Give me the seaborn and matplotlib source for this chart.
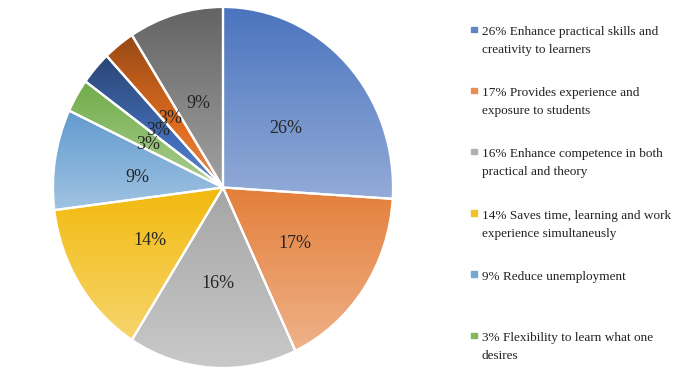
import colorsys

import matplotlib
matplotlib.use("Agg")
import matplotlib.pyplot as plt
import numpy as np
import seaborn as sns
from matplotlib.colors import to_rgb
from matplotlib.patches import Rectangle

# slice shares (%), clockwise from 12 o'clock
shares = [26, 17, 16, 14, 9, 3, 3, 3, 9]
slice_colors = ["#4472C4", "#ED7D31", "#A5A5A5", "#FFC000", "#5B9BD5",
                "#70AD47", "#264478", "#9E480E", "#636363"]
# only the first six legend entries are visible in the source
legend_labels = [
    "26% Enhance practical skills and\ncreativity to learners",
    "17% Provides experience and\nexposure to students",
    "16% Enhance competence in both\npractical and theory",
    "14% Saves time, learning and work\nexperience simultaneusly",
    "9% Reduce unemployment",
    "3% Flexibility to learn what one\ndesires",
]

sns.set_theme(style="white")
plt.rcParams["font.family"] = ["Liberation Serif", "DejaVu Serif"]


def ramp_colors(col, n=256, lift=0.4, sat=0.9):
    """Office-like gradient: lightness rises from top to bottom of the slice."""
    h, l, s = colorsys.rgb_to_hls(*to_rgb(col))
    out = []
    for t in np.linspace(0, 1, n):
        out.append(colorsys.hls_to_rgb(h, l + (1 - l) * lift * t, s * sat))
    return np.array(out)


fig = plt.figure(figsize=(7, 3.85), dpi=100)
ax = fig.add_axes([53 / 700, 17 / 385, 340 / 700, 361 / 385])

wedges, texts, autotexts = ax.pie(
    shares, colors=slice_colors, startangle=90, counterclock=False,
    autopct="%d%%", pctdistance=0.51,
    wedgeprops=dict(edgecolor="white", linewidth=1.6),
    textprops=dict(color="#262626", fontsize=13))

ramps = [ramp_colors(c) for c in slice_colors]
for w, rgb in zip(wedges, ramps):
    bb = w.get_path().get_extents()
    im = ax.imshow(rgb[:, None, :], extent=[bb.x0, bb.x1, bb.y0, bb.y1],
                   origin="upper", aspect="auto", interpolation="bilinear", zorder=1)
    im.set_clip_path(w)
    w.set_facecolor("none")
    w.set_zorder(2)

for t in autotexts:
    t.set_zorder(3)
    x, y = t.get_position()
    t.set_position((x, y - 0.022))

ax.set_xlim(-1, 1)
ax.set_ylim(-1, 1)
ax.set_aspect("auto")
ax.axis("off")

# legend, drawn by hand so the marker sits on the first line
step, gap = 61.2, 18
for i, lab in enumerate(legend_labels):
    yb = 35 + i * step
    fig.patches.append(Rectangle((471 / 700, 1 - (yb - 3) / 385), 5.5 / 700, 5.5 / 385,
                                 transform=fig.transFigure, figure=fig,
                                 color=ramps[i][80]))
    for j, line in enumerate(lab.split("\n")):
        fig.text(482 / 700, 1 - (yb + j * gap) / 385, line, ha="left",
                 va="baseline", fontsize=9.5, color="#222222")

fig.savefig("out.png", dpi=100)
